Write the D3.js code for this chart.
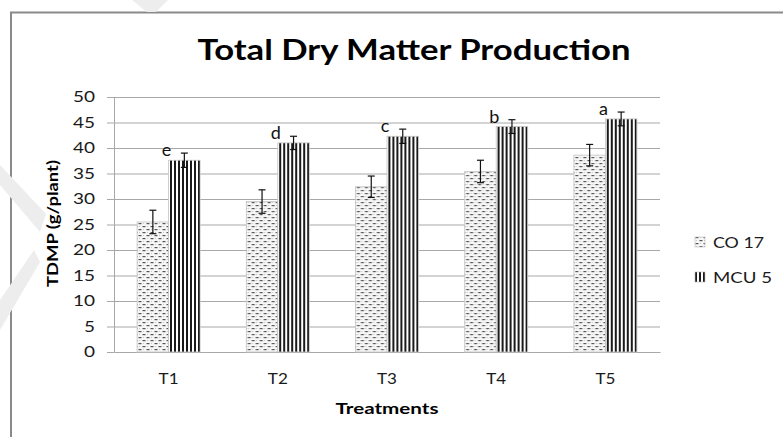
<!DOCTYPE html>
<html><head><meta charset="utf-8">
<script src="https://cdn.jsdelivr.net/npm/d3@7"></script>
<style>
html,body{margin:0;padding:0;background:#fff;}
svg{display:block;font-family:Lato,"Open Sans",sans-serif;}
</style></head>
<body>
<svg id="chart" width="783" height="437"></svg>
<script>
// ---- data ----
const categories = ["T1","T2","T3","T4","T5"];
const seriesNames = ["CO 17","MCU 5"];
const co17 = [25.5, 29.5, 32.4, 35.4, 38.6];
const co17Err = [2.3, 2.3, 2.1, 2.2, 2.1];
const mcu5 = [37.6, 41.0, 42.3, 44.2, 45.7];
const mcu5Err = [1.4, 1.3, 1.4, 1.35, 1.35];
const sigLetters = ["e","d","c","b","a"];
const yTicks = [0,5,10,15,20,25,30,35,40,45,50];

const svg = d3.select("#chart");
const plot = {left:114, right:660, top:97, bottom:352};

// frame
svg.append("path").attr("d","M11,437 V12.5 H783").attr("fill","none")
  .attr("stroke","#8a8a8a").attr("stroke-width",2);

// faint watermark shapes
const wm = svg.append("g").attr("fill","#ededed");
wm.append("path").attr("d","M132,0 L168,0 L156,12 L147,12 Z");
wm.append("path").attr("d","M0,165 L0,185 L40,232 L46,214 Z");
wm.append("path").attr("d","M0,300 L0,330 L40,262 L34,250 Z");

// patterns
const defs = svg.append("defs");
const p1 = defs.append("pattern").attr("id","pCO").attr("patternUnits","userSpaceOnUse")
  .attr("width",8).attr("height",6);
p1.append("rect").attr("width",8).attr("height",6).attr("fill","#f7f7f7");
p1.append("rect").attr("x",0.5).attr("y",1).attr("width",3).attr("height",1.2).attr("fill","#555");
p1.append("rect").attr("x",4.5).attr("y",4).attr("width",3).attr("height",1.2).attr("fill","#555");
p1.append("rect").attr("x",5).attr("y",1.2).attr("width",1).attr("height",0.8).attr("fill","#bbb");
p1.append("rect").attr("x",1).attr("y",4.2).attr("width",1).attr("height",0.8).attr("fill","#bbb");
const p2 = defs.append("pattern").attr("id","pMCU").attr("patternUnits","userSpaceOnUse")
  .attr("width",4).attr("height",4);
p2.append("rect").attr("width",4).attr("height",4).attr("fill","#fff");
p2.append("rect").attr("x",0).attr("width",2).attr("height",4).attr("fill","#1a1a1a");
const patterns = {"CO 17":"url(#pCO)","MCU 5":"url(#pMCU)"};

// scales
const x = d3.scaleBand().domain(categories).range([plot.left, plot.right]).padding(0);
const xs = d3.scaleBand().domain(seriesNames).range([0, x.bandwidth()]).paddingInner(0).paddingOuter(0.733);
const y = d3.scaleLinear().domain([0,50]).range([plot.bottom, plot.top]);

// gridlines
svg.append("g").attr("transform",`translate(${plot.left},0)`)
  .call(d3.axisLeft(y).tickValues(yTicks.filter(d=>d>0)).tickSize(-(plot.right-plot.left)).tickFormat(""))
  .call(g=>{g.select(".domain").remove(); g.selectAll("line").attr("stroke","#a8a8a8");});

// y axis
const yAx = svg.append("g").attr("transform",`translate(${plot.left},0)`)
  .call(d3.axisLeft(y).tickValues(yTicks).tickSize(7).tickPadding(12).tickSizeOuter(0));
yAx.select(".domain").attr("stroke","#a8a8a8");
yAx.selectAll("line").attr("stroke","#a8a8a8");
yAx.selectAll("text").attr("font-size",15.5).attr("fill","#1a1a1a")
  .attr("font-family","Lato,'Open Sans',sans-serif")
  .each(function(){ const t=d3.select(this); t.attr("textLength", t.text().length*11).attr("lengthAdjust","spacingAndGlyphs"); });

// x axis
const xAx = svg.append("g").attr("transform",`translate(0,${plot.bottom})`)
  .call(d3.axisBottom(x).tickSize(0).tickPadding(21).tickSizeOuter(0));
xAx.select(".domain").attr("stroke","#a8a8a8");
xAx.selectAll("text").attr("font-size",15.5).attr("fill","#1a1a1a")
  .attr("font-family","Lato,'Open Sans',sans-serif")
  .attr("textLength",20).attr("lengthAdjust","spacingAndGlyphs");

// bars
const rows = categories.map((c,i)=>({c, vals:[
  {s:"CO 17", v:co17[i], e:co17Err[i]},
  {s:"MCU 5", v:mcu5[i], e:mcu5Err[i]}], letter:sigLetters[i]}));

const grp = svg.append("g").selectAll("g").data(rows).join("g")
  .attr("transform",d=>`translate(${x(d.c)},0)`);
grp.selectAll("rect").data(d=>d.vals).join("rect")
  .attr("x",d=>xs(d.s)).attr("width",xs.bandwidth())
  .attr("y",d=>y(d.v)).attr("height",d=>y(0)-y(d.v))
  .attr("fill",d=>patterns[d.s]).attr("stroke","#c4c4c4").attr("stroke-width",0.8);

// error bars
const eb = grp.selectAll("g.eb").data(d=>d.vals).join("g").attr("class","eb")
  .attr("stroke","#111").attr("stroke-width",1.2);
const cap = 3.5;
eb.append("line").attr("x1",d=>xs(d.s)+xs.bandwidth()/2).attr("x2",d=>xs(d.s)+xs.bandwidth()/2)
  .attr("y1",d=>y(d.v+d.e)).attr("y2",d=>y(d.v-d.e));
eb.append("line").attr("x1",d=>xs(d.s)+xs.bandwidth()/2-cap).attr("x2",d=>xs(d.s)+xs.bandwidth()/2+cap)
  .attr("y1",d=>y(d.v+d.e)).attr("y2",d=>y(d.v+d.e));
eb.append("line").attr("x1",d=>xs(d.s)+xs.bandwidth()/2-cap).attr("x2",d=>xs(d.s)+xs.bandwidth()/2+cap)
  .attr("y1",d=>y(d.v-d.e)).attr("y2",d=>y(d.v-d.e));

// significance letters
grp.append("text").attr("x",x.bandwidth()/2-2)
  .attr("y",d=>y(d.vals[1].v+d.vals[1].e)+3)
  .attr("text-anchor","middle").attr("font-size",18).attr("fill","#111")
  .text(d=>d.letter);

// title
svg.append("text").attr("x",414).attr("y",60).attr("text-anchor","middle")
  .attr("font-size",28).attr("font-weight","bold").attr("fill","#000")
  .attr("textLength",433).attr("lengthAdjust","spacingAndGlyphs")
  .text("Total Dry Matter Production");

// axis titles
svg.append("text").attr("transform",`translate(58,${(plot.top+plot.bottom)/2-1}) rotate(-90)`)
  .attr("text-anchor","middle").attr("font-size",15).attr("font-weight","bold").attr("fill","#000")
  .attr("textLength",127).attr("lengthAdjust","spacingAndGlyphs")
  .text("TDMP (g/plant)");
svg.append("text").attr("x",(plot.left+plot.right)/2).attr("y",414).attr("text-anchor","middle")
  .attr("font-size",15).attr("font-weight","bold").attr("fill","#000")
  .attr("textLength",103).attr("lengthAdjust","spacingAndGlyphs")
  .text("Treatments");

// legend
const lg = svg.append("g").selectAll("g").data(seriesNames).join("g")
  .attr("transform",(d,i)=>`translate(695,${242+i*35})`);
lg.append("rect").attr("x",0).attr("y",-5).attr("width",10).attr("height",10)
  .attr("fill",d=>patterns[d]).attr("stroke","#bbb").attr("stroke-width",0.6);
lg.append("text").attr("x",18).attr("y",5.5).attr("font-size",16).attr("fill","#1a1a1a")
  .attr("textLength",d=>d==="CO 17"?51:59).attr("lengthAdjust","spacingAndGlyphs")
  .text(d=>d);
</script>
</body></html>
